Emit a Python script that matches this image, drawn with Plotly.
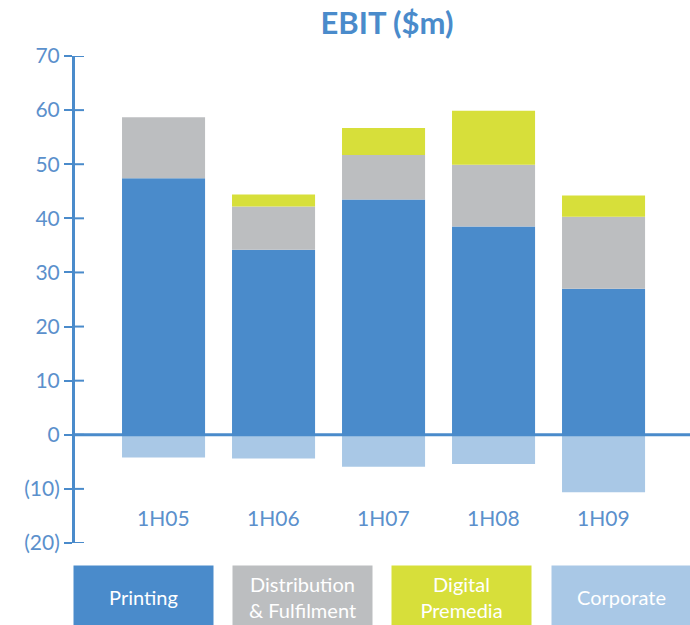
import plotly.graph_objects as go

# EBIT by segment, half-year results ($m)
periods = ["1H05", "1H06", "1H07", "1H08", "1H09"]
printing = [47.4, 34.2, 43.5, 38.5, 27.0]
distribution = [11.3, 8.0, 8.2, 11.4, 13.3]
digital = [0.0, 2.2, 5.0, 10.0, 3.9]
corporate = [-4.2, -4.4, -5.9, -5.4, -10.6]

y_ticks = [70, 60, 50, 40, 30, 20, 10, 0, -10, -20]
y_tick_text = ["70", "60", "50", "40", "30", "20", "10", "0", "(10)", "(20)"]

segment_names = ["Printing", "Distribution<br>& Fulfilment", "Digital<br>Premedia", "Corporate"]

BLUE = "#4a8bcb"
GREY = "#bcbec0"
LIME = "#d7df3a"
PALE = "#a9c8e6"
LABEL = "#5b90cc"
FONT = "Lato"

fig = go.Figure()
series = [(printing, BLUE), (distribution, GREY), (digital, LIME), (corporate, PALE)]
for vals, col in series:
    fig.add_trace(go.Bar(
        x=periods, y=vals, marker=dict(color=col, line=dict(width=0)),
        width=0.755, showlegend=False, hoverinfo="skip",
    ))

fig.update_layout(
    width=690, height=625,
    margin=dict(l=75, r=0, t=56, b=82),
    paper_bgcolor="white", plot_bgcolor="white",
    barmode="relative",
    title=dict(text="<b>EBIT ($m)</b>", x=387 / 690, xref="container", xanchor="center",
               y=1 - 23 / 625, yref="container", yanchor="middle",
               font=dict(family=FONT, size=31, color=BLUE)),
    xaxis=dict(range=[-0.805, 4.786], showticklabels=False, showgrid=False,
               zeroline=False, showline=False, ticks=""),
    yaxis=dict(range=[-20, 70], tickvals=y_ticks, ticktext=y_tick_text,
               showgrid=False, zeroline=False, showline=True, linecolor=BLUE, linewidth=3,
               ticks="outside", ticklen=8, tickwidth=2, tickcolor=BLUE,
               tickfont=dict(family=FONT, size=21, color=LABEL), layer="above traces"),
)

# ticks cross the axis line: add the inward half at each tick value
for t in y_ticks:
    fig.add_shape(type="line", xref="paper", x0=0, x1=9 / 615, yref="y", y0=t, y1=t,
                  line=dict(color=BLUE, width=2), layer="above")

# zero baseline across the plot
fig.add_shape(type="line", xref="paper", x0=0, x1=1, yref="y", y0=0, y1=0,
              line=dict(color=BLUE, width=3), layer="above")

# period labels sit inside the plot, below the bars
for p in periods:
    fig.add_annotation(x=p, y=-15.3, xref="x", yref="y", text=p, showarrow=False,
                       font=dict(family=FONT, size=21, color=LABEL))

# coloured key boxes along the bottom
key_centres = [143, 302.5, 461.5, 621.5]
for name, (_, col), cx in zip(segment_names, series, key_centres):
    fig.add_annotation(x=(cx - 75) / 615, y=(543 - 597) / 487, xref="paper", yref="paper",
                       xanchor="center", yanchor="middle",
                       text=name, showarrow=False, width=139, height=62, borderpad=0,
                       bgcolor=col, align="center", valign="middle",
                       font=dict(family=FONT, size=20, color="white"))

fig.write_html("out.html")
